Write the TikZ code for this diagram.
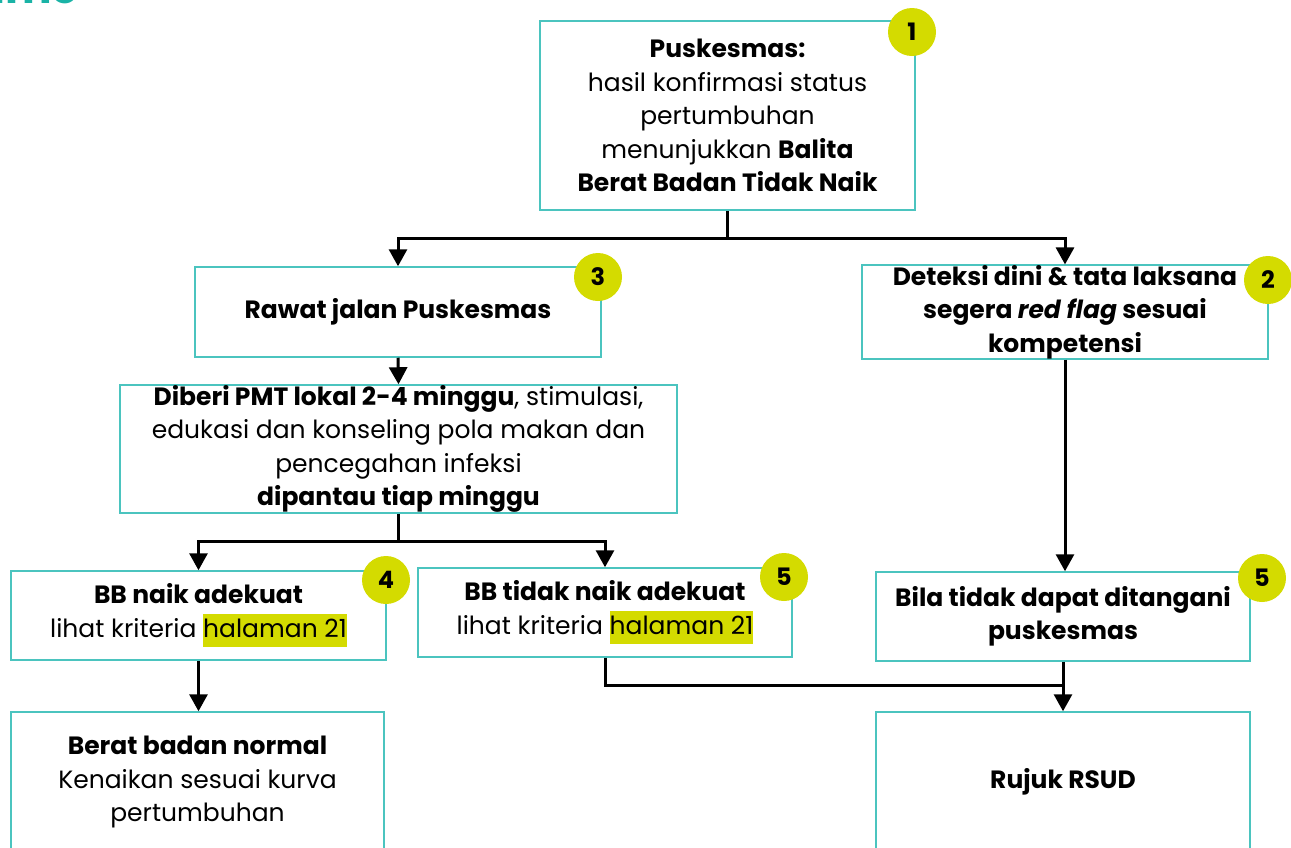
\documentclass[tikz,border=0pt]{standalone}
\usepackage{fontspec}
\setmainfont{Poppins}
\usetikzlibrary{positioning}
\usetikzlibrary{arrows.meta}
\pgfdeclarelayer{nodelayer}
\pgfdeclarelayer{edgelayer}
\pgfsetlayers{nodelayer,edgelayer,main}
\definecolor{boxteal}{RGB}{75,196,191}
\definecolor{badgeyellow}{RGB}{212,219,0}
\definecolor{titleteal}{RGB}{26,179,166}
\newcommand{\hlt}[1]{{\setlength{\fboxsep}{0pt}\colorbox{badgeyellow}{\strut #1}}}
\tikzset{
    none/.style = {inner sep=0pt},
    box/.style = {draw=boxteal, line width=1.5pt, fill=white, align=center, inner sep=0pt,
        font=\fontsize{25}{33.5}\selectfont},
    badge/.style = {circle, fill=badgeyellow, minimum size=48pt, inner sep=0pt,
        font=\fontsize{24}{24}\selectfont\bfseries},
    flow/.style = {line width=3pt, -{Triangle[width=18pt,length=17pt]}},
    link/.style = {line width=3pt}
}

\begin{document}
\begin{tikzpicture}[x=1pt, y=-1pt]
    \useasboundingbox (0,0) rectangle (1291,847);
    \begin{pgfonlayer}{nodelayer}
        \node [style=none, anchor=base west, text=titleteal, font=\fontsize{44}{44}\selectfont\bfseries] (title) at (-8, 3) {ime};
        \node [style=box, minimum width=375, minimum height=189] (puskesmas) at (727.5, 115.5)
            {\textbf{Puskesmas:}\\hasil konfirmasi status\\pertumbuhan\\menunjukkan \textbf{Balita}\\\textbf{Berat Badan Tidak Naik}};
        \node [style=box, minimum width=406, minimum height=90] (rawat) at (398, 312)
            {\textbf{Rawat jalan Puskesmas}};
        \node [style=box, minimum width=406, minimum height=90] (deteksi) at (1065, 312)
            {\textbf{Deteksi dini \& tata laksana}\\\textbf{segera \textit{red flag} sesuai}\\\textbf{kompetensi}};
        \node [style=box, minimum width=557, minimum height=128] (pmt) at (398.5, 449)
            {\textbf{Diberi PMT lokal 2-4 minggu}, stimulasi,\\edukasi dan konseling pola makan dan\\pencegahan infeksi\\\textbf{dipantau tiap minggu}};
        \node [style=box, minimum width=375, minimum height=89] (naik) at (198.5, 615.5)
            {\textbf{BB naik adekuat}\\lihat kriteria \hlt{halaman 21}};
        \node [style=box, minimum width=374, minimum height=89] (tidaknaik) at (605, 612.5)
            {\textbf{BB tidak naik adekuat}\\lihat kriteria \hlt{halaman 21}};
        \node [style=box, minimum width=374, minimum height=89] (bila) at (1063, 616.5)
            {\textbf{Bila tidak dapat ditangani}\\\textbf{puskesmas}};
        \node [style=box, minimum width=373, minimum height=140] (normal) at (197.5, 782)
            {\textbf{Berat badan normal}\\Kenaikan sesuai kurva\\pertumbuhan};
        \node [style=box, minimum width=374, minimum height=140] (rujuk) at (1063, 782)
            {\textbf{Rujuk RSUD}};
        % Nomor langkah
        \node [style=badge] (b1) at (912, 32) {1};
        \node [style=badge] (b3) at (598, 277) {3};
        \node [style=badge] (b2) at (1268, 280) {2};
        \node [style=badge] (b4) at (386, 580) {4};
        \node [style=badge] (b5) at (784, 577) {5};
        \node [style=badge] (b6) at (1262, 578) {5};
        \coordinate (s1) at (727.5, 238);
        \coordinate (s2) at (398.5, 541);
        \coordinate (s3) at (1063, 685);
    \end{pgfonlayer}
    \begin{pgfonlayer}{edgelayer}
        \draw [style=link] (puskesmas.south) to (s1);
        \draw [style=flow] (s1) -| (rawat.north);
        \draw [style=flow] (s1) -| (deteksi.north);
        \draw [style=flow] (rawat.south) to (pmt.north);
        \draw [style=link] (pmt.south) to (s2);
        \draw [style=flow] (s2) -| (naik.north);
        \draw [style=flow] (s2) -| (tidaknaik.north);
        \draw [style=flow] (deteksi.south) to (deteksi.south |- bila.north);
        \draw [style=flow] (naik.south) to (naik.south |- normal.north);
        \draw [style=link] (tidaknaik.south) |- (s3);
        \draw [style=flow] (bila.south) to (rujuk.north);
    \end{pgfonlayer}
\end{tikzpicture}
\end{document}
